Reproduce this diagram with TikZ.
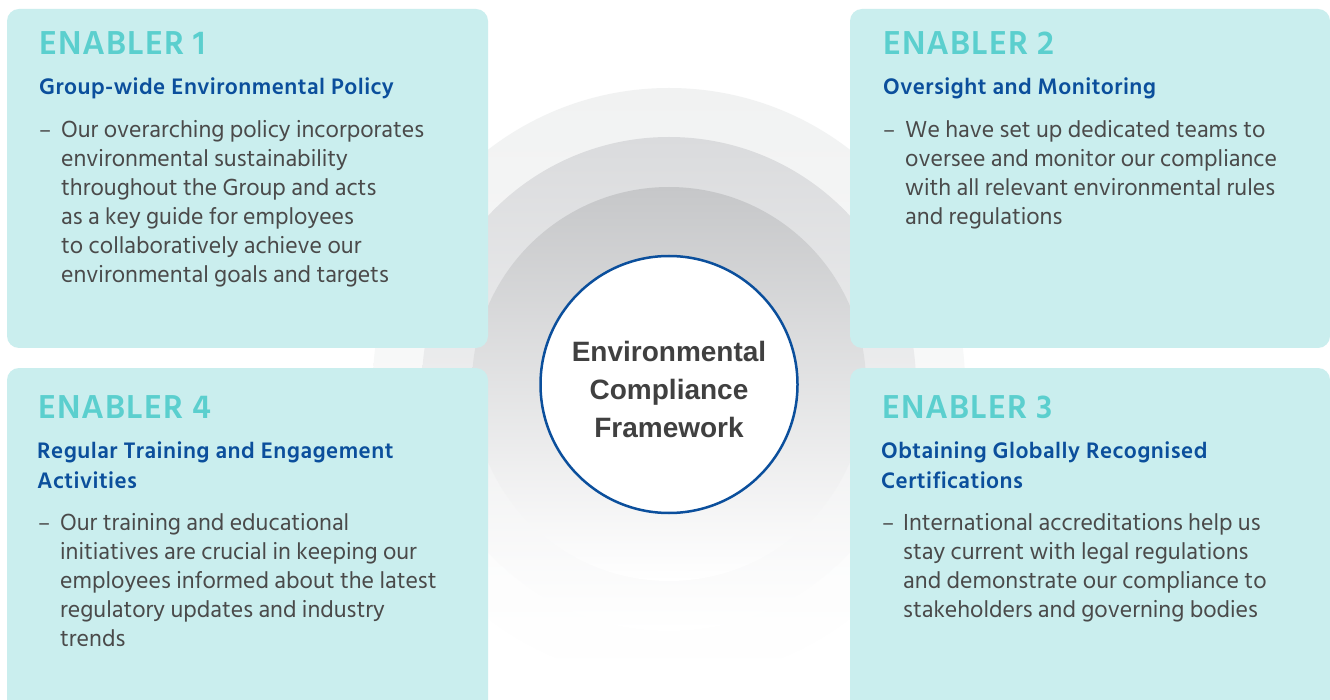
\documentclass[tikz,border=0pt]{standalone}
\usepackage{fontspec}
\setmainfont{Hind Siliguri}
\newfontfamily\ctrfont{Liberation Sans}
\newfontfamily\headfont[LetterSpace=3]{Hind Siliguri}
\newfontfamily\subfont[LetterSpace=2]{Hind Siliguri}
\definecolor{boxfill}{HTML}{CAEEEE}
\definecolor{enab}{HTML}{5BCFCE}
\definecolor{subblue}{HTML}{0B4F9C}
\definecolor{bodygray}{HTML}{4A4A4A}
\definecolor{ctrgray}{HTML}{404040}
\definecolor{ringA}{HTML}{F1F2F2}
\definecolor{ringB}{HTML}{DADBDD}
\definecolor{ringC}{HTML}{C6C7C9}
\newcommand\bodyblock[1]{\vtop{\baselineskip=29pt\lineskiplimit=-20pt #1}}
\newcommand\subblock[1]{\vtop{\baselineskip=30pt\lineskiplimit=-20pt #1}}
\tikzset{
  panel/.style={fill=boxfill, draw=none, rounded corners=12pt},
  enabler/.style={anchor=base west, inner sep=0pt, text=enab, font=\headfont\bfseries\fontsize{34}{38}\selectfont},
  subtitle/.style={anchor=base west, inner sep=0pt, text=subblue, font=\subfont\bfseries\fontsize{23}{30}\selectfont},
  bodytext/.style={anchor=base west, inner sep=0pt, text=bodygray, font=\fontsize{23.8}{29}\selectfont},
  dashmark/.style={anchor=base west, inner sep=0pt, text=bodygray, font=\fontsize{22.5}{29}\selectfont},
  hub/.style={circle, draw=subblue, line width=2.5pt, fill=white, minimum size=257pt, inner sep=0pt},
  hubtext/.style={anchor=base, inner sep=0pt, text=ctrgray, font=\ctrfont\bfseries\fontsize{28}{37.5}\selectfont}
}
\begin{document}
\begin{tikzpicture}[x=1pt,y=-1pt]
\useasboundingbox (0,0) rectangle (1330,700);
\fill[white] (0,0) rectangle (1330,700);
% background rings
\shade[top color=ringA, bottom color=white] (669,384) circle (296);
\shade[top color=ringB, bottom color=white] (669,384) circle (247);
\shade[top color=ringC, bottom color=white] (669,384) circle (197);
% panels
\fill[panel] (7,9) rectangle (488,348);
\fill[panel] (850,9) rectangle (1330,348);
\fill[panel] (7,368) rectangle (488,712);
\fill[panel] (850,368) rectangle (1330,712);
% hub
\node[hub] (hub) at (669,384.5) {};
\node[hubtext] (hubtxt) at (669,362) {\vtop{\baselineskip=37.5pt\halign{\hfil#\hfil\cr Environmental\cr Compliance\cr Framework\cr}}};
% Enabler 1
\node[enabler] (e1) at (39,55) {ENABLER 1};
\node[subtitle] (s1) at (39,95) {Group-wide Environmental Policy};
\node[dashmark] (d1) at (39,138) {–};
\node[bodytext] (b1) at (61,138) {\bodyblock{\hbox{Our overarching policy incorporates}\hbox{environmental sustainability}\hbox{throughout the Group and acts}\hbox{as a key guide for employees}\hbox{to collaboratively achieve our}\hbox{environmental goals and targets}}};
% Enabler 2
\node[enabler] (e2) at (883,55) {ENABLER 2};
\node[subtitle] (s2) at (883,95) {Oversight and Monitoring};
\node[dashmark] (d2) at (883,138) {–};
\node[bodytext] (b2) at (905,138) {\bodyblock{\hbox{We have set up dedicated teams to}\hbox{oversee and monitor our compliance}\hbox{with all relevant environmental rules}\hbox{and regulations}}};
% Enabler 4
\node[enabler] (e4) at (38,418) {ENABLER 4};
\node[subtitle] (s4) at (37,458) {\subblock{\hbox{Regular Training and Engagement}\hbox{Activities}}};
\node[dashmark] (d4) at (38,530) {–};
\node[bodytext] (b4) at (60,530) {\bodyblock{\hbox{Our training and educational}\hbox{initiatives are crucial in keeping our}\hbox{employees informed about the latest}\hbox{regulatory updates and industry}\hbox{trends}}};
% Enabler 3
\node[enabler] (e3) at (882,418) {ENABLER 3};
\node[subtitle] (s3) at (881,458) {\subblock{\hbox{Obtaining Globally Recognised}\hbox{Certifications}}};
\node[dashmark] (d3) at (882,530) {–};
\node[bodytext] (b3) at (903,530) {\bodyblock{\hbox{International accreditations help us}\hbox{stay current with legal regulations}\hbox{and demonstrate our compliance to}\hbox{stakeholders and governing bodies}}};
\end{tikzpicture}
\end{document}
